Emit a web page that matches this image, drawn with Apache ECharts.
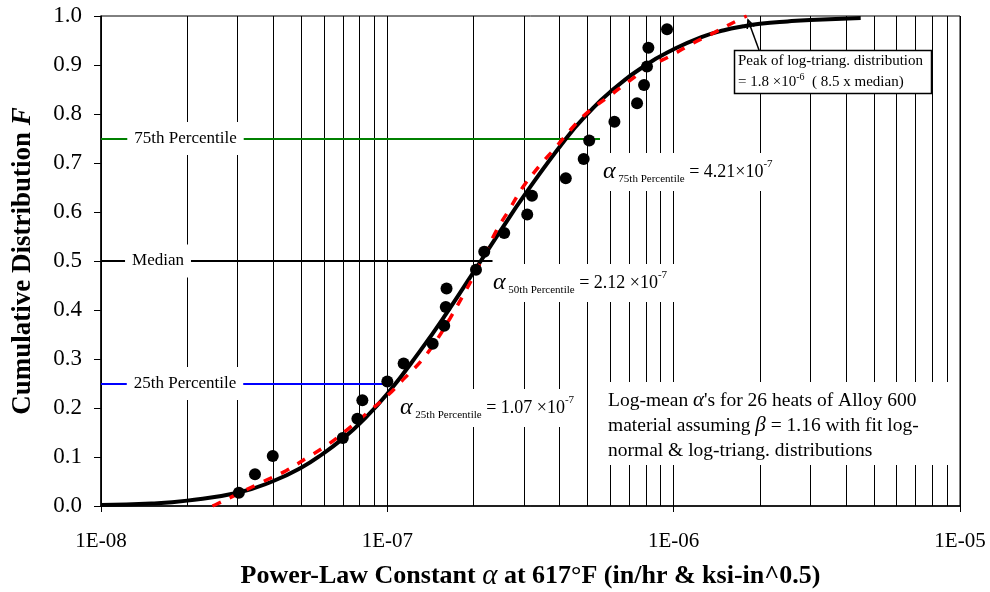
<!DOCTYPE html>
<html><head><meta charset="utf-8">
<script src="https://cdn.jsdelivr.net/npm/echarts@6/dist/echarts.min.js"></script>
<style>html,body{margin:0;padding:0;background:#fff}#c{width:990px;height:592px}</style>
</head><body><div id="c"></div>
<script>
// ---------- data ----------
const xTickLabels = ['1E-08', '1E-07', '1E-06', '1E-05'];
// 26 heats: log-mean alpha and median-rank F
const pointAlpha = [3.03e-8, 3.45e-8, 3.98e-8, 6.99e-8, 7.86e-8, 8.18e-8, 1.0e-7, 1.14e-7, 1.44e-7, 1.58e-7,
  1.60e-7, 1.61e-7, 2.04e-7, 2.18e-7, 2.56e-7, 3.08e-7, 3.20e-7, 4.20e-7, 4.85e-7, 5.07e-7,
  6.21e-7, 7.45e-7, 7.88e-7, 8.07e-7, 8.16e-7, 9.48e-7];
const pointF = [0.027, 0.065, 0.102, 0.139, 0.178, 0.216, 0.254, 0.291, 0.331, 0.368,
  0.406, 0.444, 0.482, 0.519, 0.557, 0.595, 0.633, 0.669, 0.708, 0.746,
  0.784, 0.822, 0.859, 0.897, 0.935, 0.973];
// fitted log-normal (black solid)
const lnAlpha = [1e-8, 1.5e-8, 2e-8, 3e-8, 4e-8, 5e-8, 6e-8, 7e-8, 8e-8, 1e-7, 1.3e-7, 1.6e-7, 2.12e-7,
  2.5e-7, 3e-7, 4.21e-7, 5e-7, 6e-7, 8e-7, 1e-6, 1.25e-6, 1.5e-6, 1.75e-6, 2e-6, 2.5e-6, 3e-6, 4.5e-6];
const lnF = [0.002, 0.005, 0.011, 0.027, 0.051, 0.078, 0.108, 0.138, 0.168, 0.229, 0.316, 0.391, 0.5,
  0.564, 0.633, 0.75, 0.8, 0.845, 0.9, 0.932, 0.957, 0.971, 0.979, 0.984, 0.989, 0.992, 0.996];
// fitted log-triangular (red dashed)
const ltAlpha = [2.45e-8, 2.54e-8, 3.69e-8, 4.43e-8, 5.23e-8, 6.22e-8, 7.21e-8, 8.59e-8, 1.008e-7, 1.153e-7,
  1.318e-7, 1.488e-7, 1.656e-7, 1.828e-7, 1.997e-7, 2.41e-7, 2.68e-7, 2.985e-7, 3.42e-7, 3.85e-7,
  4.41e-7, 5.04e-7, 5.91e-7, 6.95e-7, 8.27e-7, 9.85e-7, 1.172e-6, 1.395e-6, 1.683e-6, 1.8e-6];
const ltF = [0.0, 0.004, 0.05, 0.072, 0.098, 0.126, 0.155, 0.192, 0.227, 0.262,
  0.297, 0.339, 0.383, 0.427, 0.468, 0.563, 0.607, 0.652, 0.696, 0.73,
  0.771, 0.805, 0.835, 0.866, 0.897, 0.92, 0.945, 0.967, 0.992, 1.0];
// percentile reference lines
const pctNames = ['25th Percentile', 'Median', '75th Percentile'];
const pctF = [0.25, 0.5, 0.75];
const pctLineEnd = [1.0e-7, 2.33e-7, 5.53e-7];
const pctSub = ['25th', '50th', '75th'];
const pctValueText = ['= 1.07 ×10', '= 2.12 ×10', '= 4.21×10'];

// ---------- chart ----------
const FONT = '"Liberation Serif", "Times New Roman", Times, serif';
const pctColors = ['#0000ff', '#000000', '#008000'];

const minorGrid = [];
for (let e = -8; e < -5; e++) for (let m = 2; m <= 9; m++) minorGrid.push(m * Math.pow(10, e));

const zip = (a, b) => a.map((v, i) => [v, b[i]]);

const chart = echarts.init(document.getElementById('c'), null, { renderer: 'canvas' });

function alphaNote(left, cy, i) {
  return {
    type: 'text', z: 30,
    style: {
      text: '{a|α}{s| ' + pctSub[i] + ' Percentile}{t| ' + pctValueText[i] + '}{sup|-7}',
      x: left - 10, y: cy, align: 'left', verticalAlign: 'middle', textAlign: 'left', textVerticalAlign: 'middle',
      backgroundColor: '#fff', padding: [6, 12, 6, 10],
      fontFamily: FONT, fontSize: 18, fill: '#000',
      rich: {
        a: { fontSize: 24, fontStyle: 'italic', fontFamily: FONT, lineHeight: 26, fill: '#000' },
        s: { fontSize: 11, fontFamily: FONT, verticalAlign: 'bottom', lineHeight: 14, fill: '#000' },
        t: { fontSize: 18, fontFamily: FONT, lineHeight: 26, fill: '#000' },
        sup: { fontSize: 11, fontFamily: FONT, verticalAlign: 'top', lineHeight: 20, fill: '#000' }
      }
    }
  };
}
function pctLabel(cx, cy, i) {
  return {
    type: 'text', z: 30,
    style: {
      text: pctNames[i], x: cx, y: cy, align: 'center', verticalAlign: 'middle',
      textAlign: 'center', textVerticalAlign: 'middle',
      fontFamily: FONT, fontSize: 17, fill: '#000', backgroundColor: '#fff', padding: [8, 7]
    }
  };
}
// arrow head
const ax1 = 759, ay1 = 50, ax2 = 748, ay2 = 20;
const dl = Math.hypot(ax2 - ax1, ay2 - ay1), ux = (ax1 - ax2) / dl, uy = (ay1 - ay2) / dl;
const ca = Math.cos(25 * Math.PI / 180), sa = Math.sin(25 * Math.PI / 180), hl = 9;
const h1 = [ax2 + hl * (ux * ca - uy * sa), ay2 + hl * (ux * sa + uy * ca)];
const h2 = [ax2 + hl * (ux * ca + uy * sa), ay2 + hl * (-ux * sa + uy * ca)];

const option = {
  backgroundColor: '#fff',
  animation: false,
  grid: { left: 101, right: 30, top: 16, bottom: 86, show: true, borderColor: '#000', borderWidth: 1,
    containLabel: false, outerBoundsMode: 'none' },
  xAxis: {
    type: 'log', logBase: 10, min: 1e-8, max: 1e-5,
    axisLine: { show: true, lineStyle: { color: '#000', width: 1.5 } },
    axisTick: { show: true, length: 6, lineStyle: { color: '#000', width: 1 } },
    minorTick: { show: false },
    axisLabel: {
      color: '#000', fontFamily: FONT, fontSize: 21, margin: 25,
      formatter: v => xTickLabels[Math.round(Math.log10(v)) + 8]
    },
    splitLine: { show: true, lineStyle: { color: '#000', width: 1 } },
    name: 'Power-Law Constant {a|α} at 617°F (in/hr & ksi-in^0.5)',
    nameLocation: 'middle', nameGap: 56,
    nameTextStyle: {
      color: '#000', fontFamily: FONT, fontSize: 26, fontWeight: 'bold', verticalAlign: 'top',
      rich: { a: { fontFamily: FONT, fontSize: 29, fontStyle: 'italic', fontWeight: 'normal', color: '#000' } }
    }
  },
  yAxis: {
    type: 'value', min: 0, max: 1, interval: 0.1,
    axisLine: { show: true, lineStyle: { color: '#000', width: 1.5 } },
    axisTick: { show: true, length: 7, lineStyle: { color: '#000', width: 1 } },
    axisLabel: { color: '#000', fontFamily: FONT, fontSize: 23, margin: 19, formatter: v => v.toFixed(1) },
    splitLine: { show: false },
    name: 'Cumulative Distribution {f|F}',
    nameLocation: 'middle', nameGap: 64, nameRotate: 90,
    nameTextStyle: {
      color: '#000', fontFamily: FONT, fontSize: 27, fontWeight: 'bold',
      rich: { f: { fontFamily: FONT, fontSize: 27, fontWeight: 'bold', fontStyle: 'italic', color: '#000' } }
    }
  },
  graphic: [
    pctLabel(185.5, 138.5, 2),
    pctLabel(158, 261, 1),
    pctLabel(185, 383.5, 0),
    alphaNote(603, 172, 2),
    alphaNote(493, 283, 1),
    alphaNote(400, 408, 0),
    { type: 'rect', z: 30, shape: { x: 598, y: 382, width: 357, height: 83 }, style: { fill: '#fff' } },
    {
      type: 'text', z: 31,
      style: {
        text: 'Log-mean {i|α}\'s for 26 heats of Alloy 600\nmaterial assuming {i|β} = 1.16 with fit log-\nnormal & log-triang. distributions',
        x: 608, y: 388, align: 'left', verticalAlign: 'top', textAlign: 'left', textVerticalAlign: 'top',
        fontFamily: FONT, fontSize: 19.5, lineHeight: 25, fill: '#000',
        rich: { i: { fontFamily: FONT, fontSize: 21, fontStyle: 'italic', lineHeight: 25, fill: '#000' } }
      }
    },
    { type: 'rect', z: 30, shape: { x: 734.5, y: 50.5, width: 197, height: 43 }, style: { fill: '#fff', stroke: '#000', lineWidth: 1.5 } },
    {
      type: 'text', z: 31,
      style: {
        text: 'Peak of log-triang. distribution\n= 1.8 ×10{sup|-6}  ( 8.5 x median)',
        x: 738, y: 51, align: 'left', verticalAlign: 'top', textAlign: 'left', textVerticalAlign: 'top',
        fontFamily: FONT, fontSize: 15, lineHeight: 21, fill: '#000',
        rich: { sup: { fontFamily: FONT, fontSize: 10, verticalAlign: 'top', lineHeight: 17, fill: '#000' } }
      }
    },
    { type: 'line', z: 31, shape: { x1: ax1, y1: ay1, x2: ax2, y2: ay2 }, style: { stroke: '#000', lineWidth: 1.5 } },
    { type: 'polyline', z: 31, shape: { points: [h1, [ax2, ay2], h2] }, style: { stroke: '#000', lineWidth: 1.5, fill: null } }
  ],
  series: [
    {
      name: 'grid', type: 'line', data: [], z: 1, silent: true,
      markLine: {
        z: 1, silent: true, symbol: 'none', animation: false,
        label: { show: false }, emphasis: { disabled: true },
        lineStyle: { color: '#000', width: 1, type: 'solid' },
        data: minorGrid.map(v => [{ coord: [v, 0] }, { coord: [v, 1] }])
      }
    },
    {
      name: 'percentiles', type: 'line', data: [], z: 2, silent: true,
      markLine: {
        z: 2, silent: true, symbol: 'none', animation: false,
        label: { show: false }, emphasis: { disabled: true },
        data: pctF.map((f, i) => [
          { coord: [1e-8, f], lineStyle: { color: pctColors[i], width: 1.8, type: 'solid' } },
          { coord: [pctLineEnd[i], f] }
        ])
      }
    },
    {
      name: 'log-normal', type: 'line', z: 40, data: zip(lnAlpha, lnF),
      showSymbol: false, smooth: 0.5,
      lineStyle: { color: '#000', width: 4 }
    },
    {
      name: 'log-triangular', type: 'line', z: 41, data: zip(ltAlpha, ltF),
      showSymbol: false, smooth: 0.4,
      lineStyle: { color: '#ff0000', width: 3.5, type: [9, 10] }
    },
    {
      name: 'heats', type: 'scatter', z: 42, data: zip(pointAlpha, pointF),
      symbol: 'circle', symbolSize: 12, itemStyle: { color: '#000', opacity: 1 }
    }
  ]
};
chart.setOption(option);
</script>
</body></html>
